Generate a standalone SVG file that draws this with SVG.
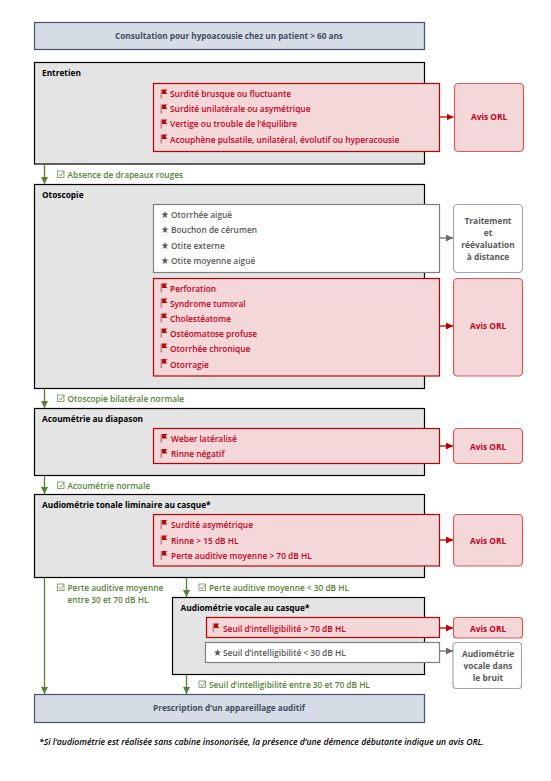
<svg xmlns="http://www.w3.org/2000/svg" width="551" height="781" viewBox="0 0 551 781">
<style>
text{font-family:"Open Sans","Noto Sans","Liberation Sans",sans-serif;font-size:8.35px;font-weight:600}
.blue{fill:#d6dce5;stroke:#44546a;stroke-width:1.2}
.blueT{fill:#3f4d63;text-anchor:middle;font-weight:700;font-size:8.2px}
.sec{fill:#e4e4e4;stroke:#000;stroke-width:1.2}
.secT{fill:#000;font-weight:700;font-size:8.3px}
.red{fill:#f4d7d8;stroke:#c00000;stroke-width:1.2}
.redR{fill:#f4d7d8;stroke:#d9585c;stroke-width:1.2}
.redT{fill:#c5001a}
.redC{fill:#c5001a;text-anchor:middle;font-weight:700}
.wh{fill:#fff;stroke:#7f7f7f;stroke-width:1.2}
.whR{fill:#fff;stroke:#a6a6a6;stroke-width:1.2}
.grayT{fill:#595959}
.grayC{fill:#595959;text-anchor:middle;font-weight:700}
.grn{fill:#548235;font-size:8.3px}
.gl{stroke:#548235;stroke-width:1.3;fill:none;marker-end:url(#ag)}
.rl{stroke:#c00000;stroke-width:1.3;fill:none;marker-end:url(#ar)}
.wl{stroke:#6b6b6b;stroke-width:1.3;fill:none;marker-end:url(#aw)}
.foot{font-style:italic;fill:#000;font-size:8.65px}
.chk{fill:none;stroke:#548235;stroke-width:.7}
</style>
<defs>
<marker id="ag" markerUnits="userSpaceOnUse" markerWidth="8" markerHeight="8" refX="7" refY="3.5" orient="auto"><path d="M0 0L7 3.5L0 7z" fill="#548235"/></marker>
<marker id="ar" markerUnits="userSpaceOnUse" markerWidth="8" markerHeight="8" refX="7" refY="3.5" orient="auto"><path d="M0 0L7 3.5L0 7z" fill="#c00000"/></marker>
<marker id="aw" markerUnits="userSpaceOnUse" markerWidth="8" markerHeight="8" refX="7" refY="3.5" orient="auto"><path d="M0 0L7 3.5L0 7z" fill="#6b6b6b"/></marker>
<g id="flag"><rect x="0" y="0" width="1.6" height="9" fill="#b98a8a"/><path d="M1.6 0L6.6 0L5.1 2L6.6 4.4L1.6 4.4z" fill="#c00000"/></g>
<g id="check"><rect x="0" y="0" width="6.5" height="6.5" class="chk"/><path d="M1.4 3.2L3 5L6.6 .6" class="chk"/></g>
<path id="star" d="M3.5 0L4.4 2.6L7 2.6L4.9 4.3L5.7 7L3.5 5.4L1.3 7L2.1 4.3L0 2.6L2.6 2.6z" fill="#595959"/>
</defs>

<g id="n-consultation"><rect class="blue" x="34.5" y="22.5" width="390" height="27"/><text class="blueT" x="229" y="39">Consultation pour hypoacousie chez un patient &gt; 60 ans</text></g>

<g id="n-entretien"><rect class="sec" x="34.5" y="62.5" width="390" height="101.5"/><text class="secT" x="42" y="76">Entretien</text></g>
<g id="n-entretien-flags"><rect class="red" x="153.5" y="83.5" width="286" height="68"/>
<use href="#flag" x="160.5" y="89.5"/><text class="redT" x="170" y="96.5">Surdité brusque ou fluctuante</text>
<use href="#flag" x="160.5" y="104.5"/><text class="redT" x="170" y="111.5">Surdité unilatérale ou asymétrique</text>
<use href="#flag" x="160.5" y="119.5"/><text class="redT" x="170" y="126.5">Vertige ou trouble de l’équilibre</text>
<use href="#flag" x="160.5" y="134.5"/><text class="redT" x="170" y="142.5">Acouphène pulsatile, unilatéral, évolutif ou hyperacousie</text></g>
<g id="n-avis1"><rect class="redR" x="454.5" y="83.5" width="69" height="68" rx="4"/><text class="redC" x="489" y="120">Avis ORL</text></g>

<g id="n-otoscopie"><rect class="sec" x="34.5" y="184.5" width="390" height="204"/><text class="secT" x="42" y="198">Otoscopie</text></g>
<g id="n-otoscopie-stars"><rect class="wh" x="153.5" y="204.5" width="286" height="68"/>
<use href="#star" x="161.5" y="211"/><text class="grayT" x="171" y="217.5">Otorrhée aiguë</text>
<use href="#star" x="161.5" y="226"/><text class="grayT" x="171" y="232.5">Bouchon de cérumen</text>
<use href="#star" x="161.5" y="242"/><text class="grayT" x="171" y="248.5">Otite externe</text>
<use href="#star" x="161.5" y="257"/><text class="grayT" x="171" y="263.5">Otite moyenne aiguë</text></g>
<g id="n-traitement"><rect class="whR" x="453.5" y="204.5" width="69" height="68" rx="4"/><text class="grayC" x="488" y="224">Traitement</text><text class="grayC" x="488" y="236">et</text><text class="grayC" x="488" y="248">réévaluation</text><text class="grayC" x="488" y="260">à distance</text></g>
<g id="n-otoscopie-flags"><rect class="red" x="153.5" y="278.5" width="286" height="97.5"/>
<use href="#flag" x="160.5" y="283.5"/><text class="redT" x="170" y="291.5">Perforation</text>
<use href="#flag" x="160.5" y="298.5"/><text class="redT" x="170" y="306.5">Syndrome tumoral</text>
<use href="#flag" x="160.5" y="313.5"/><text class="redT" x="170" y="321.5">Cholestéatome</text>
<use href="#flag" x="160.5" y="328.5"/><text class="redT" x="170" y="336.5">Ostéomatose profuse</text>
<use href="#flag" x="160.5" y="343.5"/><text class="redT" x="170" y="351.5">Otorrhée chronique</text>
<use href="#flag" x="160.5" y="359"/><text class="redT" x="170" y="367.5">Otorragie</text></g>
<g id="n-avis2"><rect class="redR" x="453.5" y="278.5" width="69" height="97.5" rx="4"/><text class="redC" x="488" y="329">Avis ORL</text></g>

<g id="n-acoumetrie"><rect class="sec" x="34.5" y="408.5" width="390" height="67"/><text class="secT" x="42" y="422">Acoumétrie au diapason</text></g>
<g id="n-acoumetrie-flags"><rect class="red" x="153.5" y="428.5" width="286" height="35"/>
<use href="#flag" x="160.5" y="434"/><text class="redT" x="171" y="441.5">Weber latéralisé</text>
<use href="#flag" x="160.5" y="449"/><text class="redT" x="171" y="457">Rinne négatif</text></g>
<g id="n-avis3"><rect class="redR" x="453.5" y="428.5" width="69" height="35" rx="4"/><text class="redC" x="488" y="450">Avis ORL</text></g>

<g id="n-audiometrie"><rect class="sec" x="34.5" y="494.5" width="390" height="83"/><text class="secT" x="42" y="508">Audiométrie tonale liminaire au casque*</text></g>
<g id="n-audiometrie-flags"><rect class="red" x="153.5" y="514.5" width="286" height="51.5"/>
<use href="#flag" x="160.5" y="520"/><text class="redT" x="171" y="527.5">Surdité asymétrique</text>
<use href="#flag" x="160.5" y="535.5"/><text class="redT" x="171" y="543.5">Rinne &gt; 15 dB HL</text>
<use href="#flag" x="160.5" y="551"/><text class="redT" x="171" y="558.5">Perte auditive moyenne &gt; 70 dB HL</text></g>
<g id="n-avis4"><rect class="redR" x="453.5" y="514.5" width="69" height="51.5" rx="4"/><text class="redC" x="488" y="544">Avis ORL</text></g>

<g id="n-vocale"><rect class="sec" x="172.5" y="597.5" width="252" height="77"/><text class="secT" x="180.5" y="611">Audiométrie vocale au casque*</text></g>
<g id="n-vocale-flag"><rect class="red" x="206.5" y="617.5" width="233" height="20"/><use href="#flag" x="212.5" y="623.5"/><text class="redT" x="223" y="631.5">Seuil d’intelligibilité &gt; 70 dB HL</text></g>
<g id="n-avis5"><rect class="redR" x="453.5" y="617.5" width="69" height="20.5" rx="3"/><text class="redC" x="488" y="631.5">Avis ORL</text></g>
<g id="n-vocale-star"><rect class="wh" x="205.5" y="642.5" width="234" height="20"/><use href="#star" x="214" y="649"/><text class="grayT" x="223" y="655.5">Seuil d’intelligibilité &lt; 30 dB HL</text></g>
<g id="n-bruit"><rect class="whR" x="453" y="642.5" width="68.5" height="46" rx="3"/><text class="grayC" x="488" y="657">Audiométrie</text><text class="grayC" x="488" y="669">vocale dans</text><text class="grayC" x="488" y="681">le bruit</text></g>

<g id="n-prescription"><rect class="blue" x="34.5" y="694.5" width="390" height="28"/><text class="blueT" x="229" y="711">Prescription d’un appareillage auditif</text></g>

<g id="connectors">
<path class="rl" d="M440 117H453.5"/>
<path class="wl" d="M440 238H453"/>
<path class="rl" d="M440 326H453"/>
<path class="rl" d="M440 446H453"/>
<path class="rl" d="M440 540H453"/>
<path class="rl" d="M440 628H453"/>
<path class="wl" d="M440 651H453"/>
<path class="gl" d="M44.5 164V184"/>
<path class="gl" d="M44.5 388.5V408"/>
<path class="gl" d="M44.5 475.5V494"/>
<path class="gl" d="M44.5 577.5V694"/>
<path class="gl" d="M186.5 577.5V597"/>
<path class="gl" d="M186.5 674.5V694"/>
</g>

<g id="labels">
<use href="#check" x="57.5" y="171"/><text class="grn" x="67.5" y="178">Absence de drapeaux rouges</text>
<use href="#check" x="57.5" y="395"/><text class="grn" x="67.5" y="402">Otoscopie bilatérale normale</text>
<use href="#check" x="57.5" y="482"/><text class="grn" x="67.5" y="489">Acoumétrie normale</text>
<use href="#check" x="57.5" y="584"/><text class="grn" x="67.5" y="591">Perte auditive moyenne</text><text class="grn" x="67.5" y="603">entre 30 et 70 dB HL</text>
<use href="#check" x="199" y="584"/><text class="grn" x="209" y="591">Perte auditive moyenne &lt; 30 dB HL</text>
<use href="#check" x="199" y="681"/><text class="grn" x="209" y="688">Seuil d’intelligibilité entre 30 et 70 dB HL</text>
</g>

<text class="foot" x="39" y="745">*Si l’audiométrie est réalisée sans cabine insonorisée, la présence d’une démence débutante indique un avis ORL.</text>
</svg>
